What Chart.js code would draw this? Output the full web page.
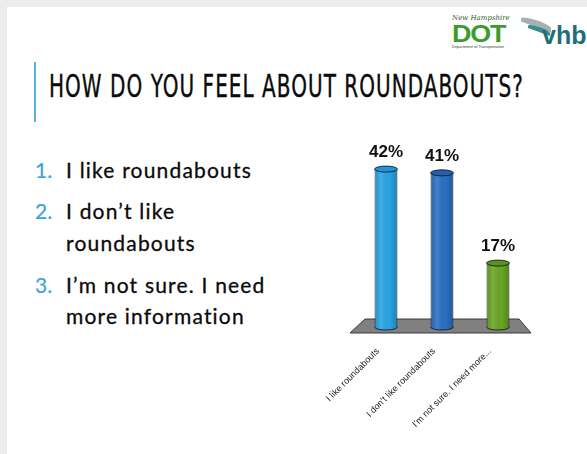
<!DOCTYPE html>
<html>
<head>
<meta charset="utf-8">
<script src="https://cdn.jsdelivr.net/npm/chart.js@4.4.0/dist/chart.umd.min.js"></script>
<style>
  html, body { margin:0; padding:0; }
  body { width:587px; height:454px; position:relative; overflow:hidden; background:#ffffff; font-family:"Liberation Sans", Arial, sans-serif; }
  .frameTop { position:absolute; left:0; top:0; width:587px; height:7px; background:#ececec; }
  .frameLeft { position:absolute; left:0; top:0; width:7px; height:454px; background:#ececec; }
  .accent { position:absolute; left:34px; top:62px; width:2px; height:60px; background:#5ab0dc; }
  .title { position:absolute; left:49px; top:70px; font-family:"Liberation Sans Narrow","DejaVu Sans Condensed","Roboto Condensed",sans-serif; font-stretch:condensed; font-size:32px; line-height:32px; color:#0a0a0a; letter-spacing:1.5px; white-space:nowrap; transform-origin:0 0; -webkit-text-stroke:0.4px #0a0a0a; }
  .line { position:absolute; font-family:Lato, "Open Sans", sans-serif; font-size:21px; line-height:20px; color:#0a0a0a; white-space:nowrap; -webkit-text-stroke:0.3px #0a0a0a; }
  .num { position:absolute; font-family:Lato, "Open Sans", sans-serif; font-size:21px; line-height:20px; color:#3aa5d6; white-space:nowrap; -webkit-text-stroke:0.2px #3aa5d6; }
  .logo-nh { position:absolute; left:452px; top:14px; font-family:"DejaVu Serif",serif; font-style:italic; font-size:7px; color:#2d5b2a; white-space:nowrap; }
  .logo-dot { position:absolute; left:452px; top:22px; font-family:"Liberation Sans",sans-serif; font-weight:bold; font-size:24px; line-height:24px; color:#3d9b2e; letter-spacing:-1px; transform:scaleX(1.12); transform-origin:0 0; }
  .logo-dept { position:absolute; left:452px; top:44px; font-size:4px; color:#2d4a2a; white-space:nowrap; }
  .logo-vhb { position:absolute; left:542px; top:23px; font-family:"Liberation Sans",sans-serif; font-weight:bold; font-size:25px; line-height:25px; color:#1e6f7b; }
  .swoosh1 { position:absolute; left:521px; top:20px; width:30px; height:7px; background:#a5b0b0; border-radius:60% 40% 0 0; transform:skewY(20deg); }
  .swoosh2 { position:absolute; left:528px; top:27px; width:22px; height:5px; background:#3a8a90; border-radius:60% 40% 0 0; transform:skewY(20deg); }
  #chartBox { position:absolute; left:300px; top:120px; width:260px; height:334px; }
</style>
</head>
<body>
<div class="frameTop"></div>
<div class="frameLeft"></div>

<div class="logo-nh">New Hampshire</div>
<div class="logo-dot">DOT</div>
<div class="logo-dept">Department of Transportation</div>
<div class="swoosh1"></div>
<div class="swoosh2"></div>
<div class="logo-vhb">vhb</div>

<div class="accent"></div>
<div class="title" id="title">HOW DO YOU FEEL ABOUT ROUNDABOUTS?</div>

<div class="num" style="left:35px; top:160px;">1.</div>
<div class="line fit" style="left:66px; top:160px;">I like roundabouts</div>
<div class="num" style="left:35px; top:201px;">2.</div>
<div class="line fit" style="left:66px; top:201px;">I don’t like</div>
<div class="line fit" style="left:66px; top:233px;">roundabouts</div>
<div class="num" style="left:35px; top:275px;">3.</div>
<div class="line fit" style="left:66px; top:275px;">I’m not sure. I need</div>
<div class="line fit" style="left:66px; top:306px;">more information</div>

<div id="chartBox"><canvas id="c" width="260" height="334"></canvas></div>

<script>
// ---- data ----
const categories = ["I like roundabouts", "I don’t like roundabouts", "I’m not sure. I need more..."];
const percentValues = [42, 41, 17];
const barColors = ["#2aa4e4", "#2b70c3", "#6aa624"];
const capColors = ["#1f95d8", "#245fb0", "#5a9220"];

// ---- fit text widths ----
(function(){
  const t = document.getElementById('title');
  const w = t.getBoundingClientRect().width;
  t.style.transform = 'scaleX(' + (475 / w) + ')';
  const lines = document.querySelectorAll('.fit');
  const first = lines[0];
  const w1 = first.getBoundingClientRect().width;
  const ls = (186 - w1) / first.textContent.length;
  lines.forEach(el => el.style.letterSpacing = ls + 'px');
})();

const cylinderPlugin = {
  id: 'cylinders',
  beforeDatasetsDraw(chart) {
    const ctx = chart.ctx;
    const a = chart.chartArea;
    const b = chart.scales.y.getPixelForValue(0);
    // floor
    ctx.save();
    ctx.beginPath();
    ctx.moveTo(a.left + 7, b - 8);
    ctx.lineTo(a.right - 7, b - 8);
    ctx.lineTo(a.right + 5, b + 6);
    ctx.lineTo(a.left - 8, b + 6);
    ctx.closePath();
    ctx.fillStyle = '#808080';
    ctx.fill();
    ctx.strokeStyle = '#3a3a3a';
    ctx.lineWidth = 1;
    ctx.stroke();
    // bottoms of cylinders
    const meta = chart.getDatasetMeta(0);
    meta.data.forEach((el, i) => {
      const w = el.width, x = el.x, base = el.base;
      ctx.beginPath();
      ctx.ellipse(x, base, w / 2, 3, 0, 0, Math.PI);
      ctx.closePath();
      ctx.fillStyle = barColors[i];
      ctx.fill();
      ctx.strokeStyle = 'rgba(15,25,35,0.85)';
      ctx.beginPath();
      ctx.ellipse(x, base, w / 2, 3, 0, 0, Math.PI);
      ctx.stroke();
    });
    ctx.restore();
  },
  afterDatasetsDraw(chart) {
    const ctx = chart.ctx;
    const meta = chart.getDatasetMeta(0);
    ctx.save();
    meta.data.forEach((el, i) => {
      const w = el.width, x = el.x, y = el.y, base = el.base;
      // shading
      const g = ctx.createLinearGradient(x - w / 2, 0, x + w / 2, 0);
      g.addColorStop(0, 'rgba(0,0,0,0.12)');
      g.addColorStop(0.3, 'rgba(255,255,255,0.12)');
      g.addColorStop(0.65, 'rgba(0,0,0,0)');
      g.addColorStop(1, 'rgba(0,0,0,0.22)');
      ctx.fillStyle = g;
      ctx.beginPath();
      ctx.rect(x - w / 2 + 0.5, y, w - 1, base - y);
      ctx.fill();
      ctx.beginPath();
      ctx.ellipse(x, base, w / 2 - 0.5, 2.5, 0, 0, Math.PI);
      ctx.fill();
      // top cap
      ctx.beginPath();
      ctx.ellipse(x, y, w / 2, 3, 0, 0, Math.PI * 2);
      ctx.fillStyle = capColors[i];
      ctx.fill();
      ctx.strokeStyle = 'rgba(15,25,35,0.85)';
      ctx.lineWidth = 1;
      ctx.stroke();
      // value label
      ctx.font = 'bold 17px "Liberation Sans", Arial, sans-serif';
      ctx.fillStyle = '#111';
      ctx.textAlign = 'center';
      ctx.textBaseline = 'alphabetic';
      ctx.fillText(percentValues[i] + '%', x, y - 12);
    });
    ctx.restore();
  }
};

new Chart(document.getElementById('c'), {
  type: 'bar',
  data: {
    labels: categories,
    datasets: [{
      data: percentValues,
      backgroundColor: barColors,
      borderColor: 'rgba(15,25,35,0.85)',
      borderWidth: 1,
      barPercentage: 0.41,
      categoryPercentage: 1
    }]
  },
  options: {
    responsive: false,
    animation: false,
    events: [],
    layout: { padding: { left: 58, right: 34, top: 19, bottom: 0 } },
    plugins: { legend: { display: false }, tooltip: { enabled: false } },
    scales: {
      y: { display: false, min: 0, max: 50 },
      x: {
        grid: { display: false, drawTicks: false },
        border: { display: false },
        ticks: {
          minRotation: 45, maxRotation: 45, autoSkip: false,
          font: { size: 9, family: '"Liberation Sans", Arial, sans-serif' },
          color: '#1a1a1a', padding: 19, labelOffset: -8
        },
        afterFit: (s) => { s.height = 127; }
      }
    }
  },
  plugins: [cylinderPlugin]
});
</script>
</body>
</html>
